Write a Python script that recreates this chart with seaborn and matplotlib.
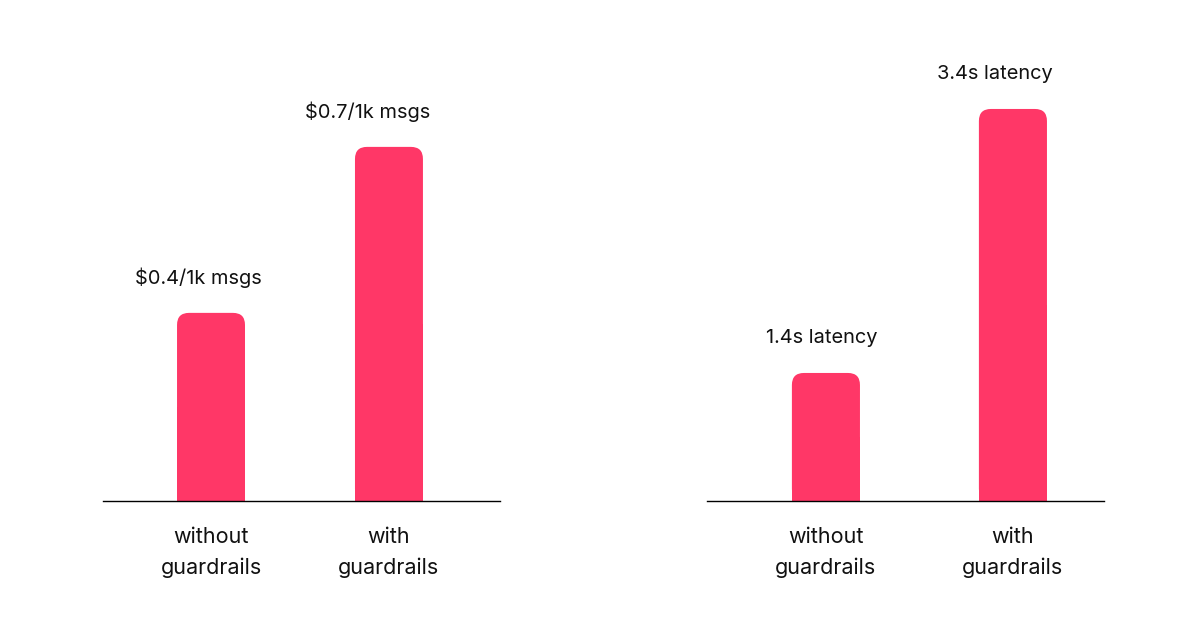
import matplotlib
matplotlib.use("Agg")
import matplotlib.pyplot as plt
import seaborn as sns
from matplotlib.patches import FancyBboxPatch, Rectangle

# data
categories = ["without\nguardrails", "with\nguardrails"]
cost_values = [0.4, 0.7]
cost_labels = ["$0.4/1k msgs", "$0.7/1k msgs"]
latency_values = [1.4, 3.4]
latency_labels = ["1.4s latency", "3.4s latency"]

PINK = "#ff3767"
INK = "#111111"
W, H, DPI = 12, 6.3, 100

sns.set_theme(style="white")
plt.rcParams["font.family"] = ["Inter", "DejaVu Sans"]

fig = plt.figure(figsize=(W, H), dpi=DPI)
ax_left = fig.add_axes([103 / 1200, 1 - 501 / 630, 397 / 1200, 461 / 630])
ax_right = fig.add_axes([707 / 1200, 1 - 501 / 630, 397 / 1200, 461 / 630])


def rounded_bars(ax, radius_px=12):
    x0, x1 = ax.get_xlim()
    y0, y1 = ax.get_ylim()
    bb = ax.get_position()
    px_x = bb.width * W * DPI / (x1 - x0)
    px_y = bb.height * H * DPI / (y1 - y0)
    rx = radius_px / px_x
    for p in list(ax.patches):
        x, y = p.get_x(), p.get_y()
        w, h = p.get_width(), p.get_height()
        p.set_visible(False)
        ax.add_patch(FancyBboxPatch((x, y0), w, y + h - y0,
                                    boxstyle=f"round,pad=0,rounding_size={rx}",
                                    mutation_aspect=px_x / px_y,
                                    fc=PINK, ec="none", zorder=2))
        ax.add_patch(Rectangle((x, y0), w, (y + h - y0) / 2,
                               fc=PINK, ec="none", zorder=2))


def panel(ax, values, labels, width, xlim, ylim, shifts):
    sns.barplot(x=categories, y=values, color=PINK, width=width,
                saturation=1, ax=ax)
    ax.set_xlim(*xlim)
    ax.set_ylim(*ylim)
    rounded_bars(ax)
    # value labels sit a little left of the bar centre in the original
    for i, (v, lab, dx) in enumerate(zip(values, labels, shifts)):
        ax.annotate(lab, (i, v), xytext=(dx * 0.72, 25), textcoords="offset points",
                    ha="center", va="center", fontsize=14.4, color=INK)
    sns.despine(ax=ax, left=True)
    ax.spines["bottom"].set_color("black")
    ax.spines["bottom"].set_linewidth(1.0)
    ax.set_yticks([])
    ax.set_ylabel("")
    ax.tick_params(axis="x", length=0, pad=19, labelsize=15.5, colors=INK)
    for t in ax.get_xticklabels():
        t.set_linespacing(1.6)


panel(ax_left, cost_values, cost_labels, 0.382,
      (-0.607, 1.624), (0.06, 0.06 + 461 / 553.3), (-13, -21))
panel(ax_right, latency_values, latency_labels, 0.364,
      (-0.636, 1.487), (0.43, 0.43 + 461 / 132), (-4, -18))

fig.savefig("out.png", dpi=DPI, facecolor="white")
